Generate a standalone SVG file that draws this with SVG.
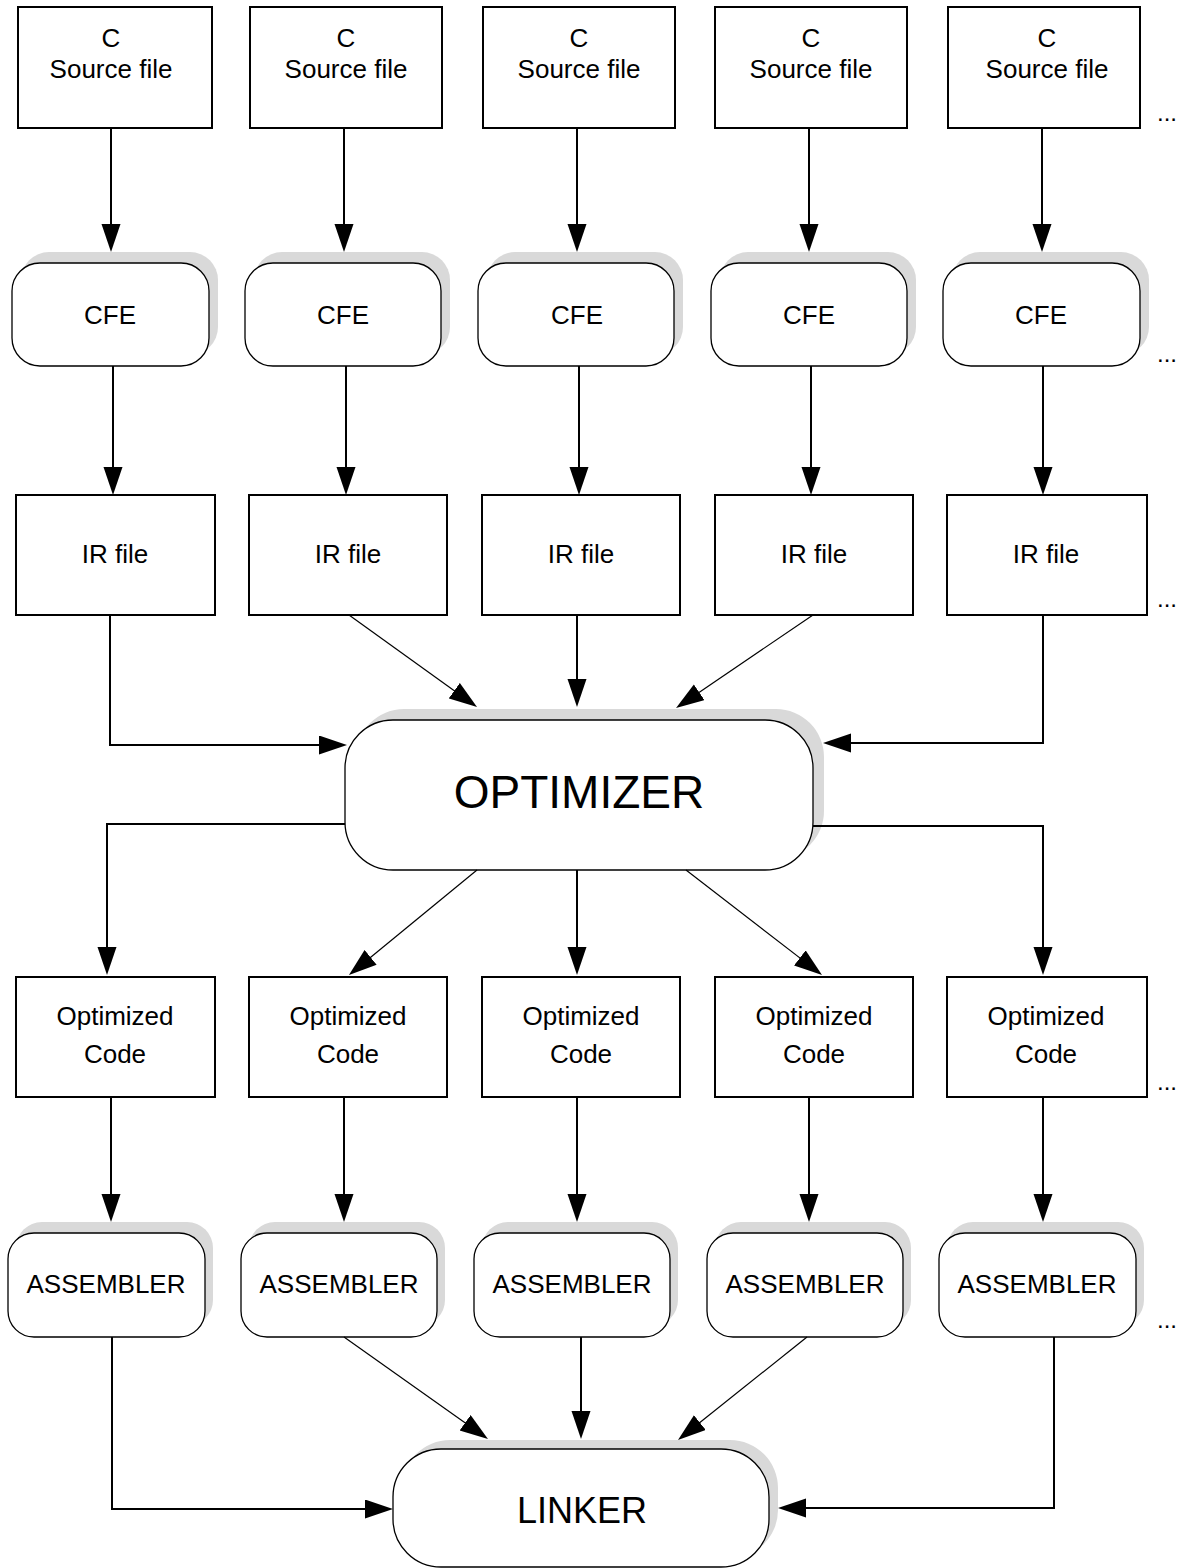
<svg xmlns="http://www.w3.org/2000/svg" width="1181" height="1568" viewBox="0 0 1181 1568">
  <style>
    .file { fill: #ffffff; stroke: #000000; stroke-width: 2; }
    .proc { fill: #ffffff; stroke: #000000; stroke-width: 1.3; }
    .shadow { fill: #d9d9d9; stroke: none; }
    .lbl { font-family: "Liberation Sans", Arial, sans-serif; font-size: 26px; fill: #000000; text-anchor: middle; }
    .big { font-size: 46px; }
    .mid { font-size: 36px; }
    .more { font-family: "Liberation Sans", Arial, sans-serif; font-size: 24px; fill: #000000; }
    .wire { fill: none; stroke: #000000; stroke-width: 2; marker-end: url(#head); }
    .slant { fill: none; stroke: #000000; stroke-width: 1.2; marker-end: url(#head); }
  </style>
  <defs>
    <marker id="head" markerUnits="userSpaceOnUse" markerWidth="30" markerHeight="20" refX="18" refY="9.5" orient="auto">
      <path d="M0,0 L28,9.5 L0,19 Z" fill="#000000"/>
    </marker>
  </defs>

  <rect width="1181" height="1568" fill="#ffffff"/>

  <!-- source files -->
  <g id="src1"><rect class="file" x="18" y="7" width="194" height="121"/><text class="lbl" x="111" y="47">C</text><text class="lbl" x="111" y="78">Source file</text></g>
  <g id="src2"><rect class="file" x="250" y="7" width="192" height="121"/><text class="lbl" x="346" y="47">C</text><text class="lbl" x="346" y="78">Source file</text></g>
  <g id="src3"><rect class="file" x="483" y="7" width="192" height="121"/><text class="lbl" x="579" y="47">C</text><text class="lbl" x="579" y="78">Source file</text></g>
  <g id="src4"><rect class="file" x="715" y="7" width="192" height="121"/><text class="lbl" x="811" y="47">C</text><text class="lbl" x="811" y="78">Source file</text></g>
  <g id="src5"><rect class="file" x="948" y="7" width="192" height="121"/><text class="lbl" x="1047" y="47">C</text><text class="lbl" x="1047" y="78">Source file</text></g>

  <!-- front ends -->
  <g id="cfe1"><rect class="shadow" x="21" y="252" width="197" height="103" rx="28"/><rect class="proc" x="12" y="263" width="197" height="103" rx="28"/><text class="lbl" x="110" y="324">CFE</text></g>
  <g id="cfe2"><rect class="shadow" x="254" y="252" width="196" height="103" rx="28"/><rect class="proc" x="245" y="263" width="196" height="103" rx="28"/><text class="lbl" x="343" y="324">CFE</text></g>
  <g id="cfe3"><rect class="shadow" x="487" y="252" width="196" height="103" rx="28"/><rect class="proc" x="478" y="263" width="196" height="103" rx="28"/><text class="lbl" x="577" y="324">CFE</text></g>
  <g id="cfe4"><rect class="shadow" x="720" y="252" width="196" height="103" rx="28"/><rect class="proc" x="711" y="263" width="196" height="103" rx="28"/><text class="lbl" x="809" y="324">CFE</text></g>
  <g id="cfe5"><rect class="shadow" x="952" y="252" width="197" height="103" rx="28"/><rect class="proc" x="943" y="263" width="197" height="103" rx="28"/><text class="lbl" x="1041" y="324">CFE</text></g>

  <!-- IR files -->
  <g id="ir1"><rect class="file" x="16" y="495" width="199" height="120"/><text class="lbl" x="115" y="563">IR file</text></g>
  <g id="ir2"><rect class="file" x="249" y="495" width="198" height="120"/><text class="lbl" x="348" y="563">IR file</text></g>
  <g id="ir3"><rect class="file" x="482" y="495" width="198" height="120"/><text class="lbl" x="581" y="563">IR file</text></g>
  <g id="ir4"><rect class="file" x="715" y="495" width="198" height="120"/><text class="lbl" x="814" y="563">IR file</text></g>
  <g id="ir5"><rect class="file" x="947" y="495" width="200" height="120"/><text class="lbl" x="1046" y="563">IR file</text></g>

  <!-- optimizer -->
  <g id="optimizer"><rect class="shadow" x="356" y="709" width="468" height="150" rx="48"/><rect class="proc" x="345" y="720" width="468" height="150" rx="48"/><text class="lbl big" x="579" y="808">OPTIMIZER</text></g>

  <!-- optimized code -->
  <g id="oc1"><rect class="file" x="16" y="977" width="199" height="120"/><text class="lbl" x="115" y="1025">Optimized</text><text class="lbl" x="115" y="1063">Code</text></g>
  <g id="oc2"><rect class="file" x="249" y="977" width="198" height="120"/><text class="lbl" x="348" y="1025">Optimized</text><text class="lbl" x="348" y="1063">Code</text></g>
  <g id="oc3"><rect class="file" x="482" y="977" width="198" height="120"/><text class="lbl" x="581" y="1025">Optimized</text><text class="lbl" x="581" y="1063">Code</text></g>
  <g id="oc4"><rect class="file" x="715" y="977" width="198" height="120"/><text class="lbl" x="814" y="1025">Optimized</text><text class="lbl" x="814" y="1063">Code</text></g>
  <g id="oc5"><rect class="file" x="947" y="977" width="200" height="120"/><text class="lbl" x="1046" y="1025">Optimized</text><text class="lbl" x="1046" y="1063">Code</text></g>

  <!-- assemblers -->
  <g id="asm1"><rect class="shadow" x="16" y="1222" width="197" height="104" rx="26"/><rect class="proc" x="8" y="1233" width="197" height="104" rx="26"/><text class="lbl" x="106" y="1293">ASSEMBLER</text></g>
  <g id="asm2"><rect class="shadow" x="249" y="1222" width="196" height="104" rx="26"/><rect class="proc" x="241" y="1233" width="196" height="104" rx="26"/><text class="lbl" x="339" y="1293">ASSEMBLER</text></g>
  <g id="asm3"><rect class="shadow" x="482" y="1222" width="196" height="104" rx="26"/><rect class="proc" x="474" y="1233" width="196" height="104" rx="26"/><text class="lbl" x="572" y="1293">ASSEMBLER</text></g>
  <g id="asm4"><rect class="shadow" x="715" y="1222" width="196" height="104" rx="26"/><rect class="proc" x="707" y="1233" width="196" height="104" rx="26"/><text class="lbl" x="805" y="1293">ASSEMBLER</text></g>
  <g id="asm5"><rect class="shadow" x="947" y="1222" width="197" height="104" rx="26"/><rect class="proc" x="939" y="1233" width="197" height="104" rx="26"/><text class="lbl" x="1037" y="1293">ASSEMBLER</text></g>

  <!-- linker -->
  <g id="linker"><rect class="shadow" x="402" y="1440" width="376" height="118" rx="48"/><rect class="proc" x="393" y="1449" width="376" height="118" rx="48"/><text class="lbl mid" x="582" y="1523">LINKER</text></g>

  <!-- continuation marks -->
  <g id="ellipses">
    <text class="more" x="1157" y="121">...</text>
    <text class="more" x="1157" y="362">...</text>
    <text class="more" x="1157" y="607">...</text>
    <text class="more" x="1157" y="1090">...</text>
    <text class="more" x="1157" y="1328">...</text>
  </g>

  <g id="connectors">
    <!-- source to front end -->
    <path class="wire" d="M111,128 V242"/>
    <path class="wire" d="M344,128 V242"/>
    <path class="wire" d="M577,128 V242"/>
    <path class="wire" d="M809,128 V242"/>
    <path class="wire" d="M1042,128 V242"/>
    <!-- front end to IR -->
    <path class="wire" d="M113,366 V485"/>
    <path class="wire" d="M346,366 V485"/>
    <path class="wire" d="M579,366 V485"/>
    <path class="wire" d="M811,366 V485"/>
    <path class="wire" d="M1043,366 V485"/>
    <!-- IR to optimizer -->
    <path class="wire" d="M110,615 V745 H337"/>
    <path class="slant" d="M349,615 L468.9,701.2"/>
    <path class="wire" d="M577,615 V697"/>
    <path class="slant" d="M813,615 L684.3,702.4"/>
    <path class="wire" d="M1043,615 V743 H833"/>
    <!-- optimizer to optimized code -->
    <path class="wire" d="M345,824 H107 V965"/>
    <path class="slant" d="M477,870 L356.7,968.7"/>
    <path class="wire" d="M577,870 V965"/>
    <path class="slant" d="M686,870 L814.1,968.9"/>
    <path class="wire" d="M813,826 H1043 V965"/>
    <!-- optimized code to assembler -->
    <path class="wire" d="M111,1097 V1212"/>
    <path class="wire" d="M344,1097 V1212"/>
    <path class="wire" d="M577,1097 V1212"/>
    <path class="wire" d="M809,1097 V1212"/>
    <path class="wire" d="M1043,1097 V1212"/>
    <!-- assembler to linker -->
    <path class="wire" d="M112,1337 V1509 H383"/>
    <path class="slant" d="M344,1337 L479.8,1433.2"/>
    <path class="wire" d="M581,1337 V1429"/>
    <path class="slant" d="M807,1337 L685.8,1433.8"/>
    <path class="wire" d="M1054,1337 V1508 H788"/>
  </g>
</svg>
